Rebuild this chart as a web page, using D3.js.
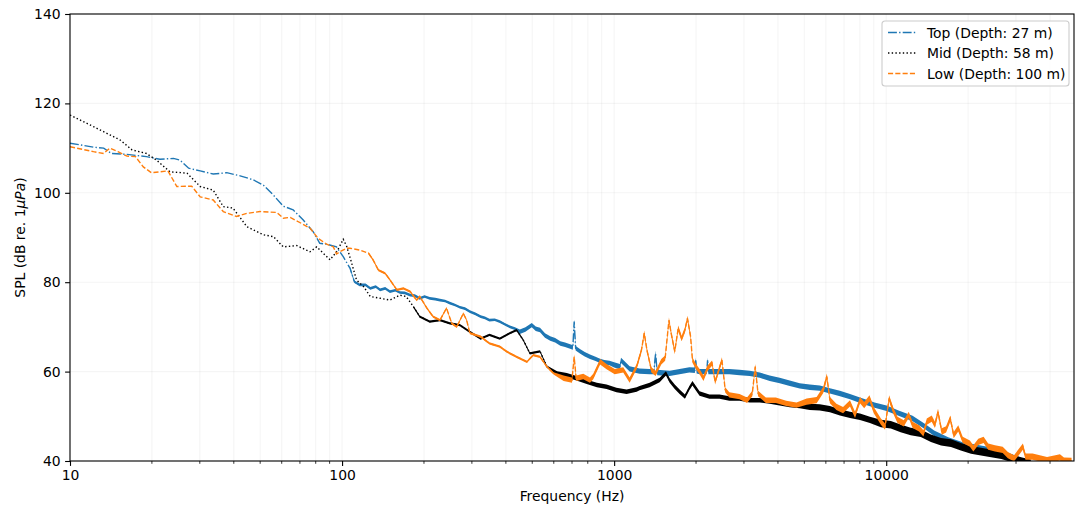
<!DOCTYPE html>
<html>
<head>
<meta charset="utf-8">
<style>
body { margin: 0; background: #fff; }
text { font-family: 'DejaVu Sans', sans-serif; }
</style>
</head>
<body>

<svg id='spl'></svg>

<script src="https://d3js.org/d3.v7.min.js"></script>
<script>
IMG_SIZE = [1075, 508]
PLOT = {left: 70, right: 1074, top: 14, bottom: 461}
FREQ_DOMAIN = [10, 49000]
SPL_DOMAIN = [40, 140]

// x ticks and y ticks
var freqTicks = [10, 100, 1000, 10000]
var splTicks = [40, 60, 80, 100, 120, 140]

// Top hydrophone (27 m)
var topFreq = [10, 12.2, 13.3, 14.2, 16.2, 19.1, 21.4, 24.0, 25.4, 27.3, 30.1, 33.6, 37.7, 42.2, 47.2, 51.4, 55.9, 60.8, 66.1, 72.0,
	78.3, 82.8, 87.8, 95.4, 101, 107, 111, 116, 122, 127, 133, 138, 144, 150, 157, 163, 170, 178, 185, 193, 201, 210, 220, 229, 239, 249,
	260, 271, 283, 295, 309, 323, 335, 348, 364, 380, 396, 414, 432, 450, 472, 498, 515, 534, 557, 582, 607, 634, 660, 689, 705, 713,
	722, 751, 780, 815, 850, 888, 920, 961, 1000, 1050, 1060, 1140, 1240, 1350, 1400, 1420, 1440, 1600, 1740, 1890, 1980, 1995, 2010,
	2060, 2190, 2205, 2220, 2440, 2650, 2890, 3150, 3430, 3730, 4060, 4420, 4810, 5240, 5700, 6210, 6760, 7360, 8010, 9060, 10030,
	11100, 12500, 13900, 15000, 16900, 19100, 20800, 24100, 27900, 30500, 33000]
var topDb = [111.1, 110.2, 110.0, 108.8, 108.6, 108.1, 107.5, 107.7, 107.3, 105.5, 104.9, 104.2, 104.5, 103.8, 102.9, 101.7, 99.5, 97.0, 96.2, 93.9,
	91.3, 88.7, 88.5, 87.9, 85.7, 83.1, 80.1, 79.4, 79.4, 78.6, 79.0, 78.3, 78.6, 77.9, 78.2, 77.7, 77.6, 77.1, 77.0, 76.4, 76.8, 76.4, 76.2, 76.0, 75.8, 75.3,
	74.9, 74.4, 74.1, 73.4, 72.9, 72.3, 72.0, 71.5, 71.6, 71.2, 70.6, 70.0, 69.6, 68.9, 69.4, 70.4, 69.6, 69.3, 68.1, 67.4, 67.0, 66.3, 66.0, 65.6, 65.4, 71.2,
	65.2, 64.5, 63.9, 63.3, 62.9, 62.4, 62.1, 61.9, 61.5, 61.1, 62.5, 60.6, 60.1, 60.0, 60.0, 64.1, 59.8, 59.6, 60.0, 60.4, 60.3, 62.5, 60.2,
	60.0, 60.0, 62.5, 60.0, 60.0, 60.0, 59.8, 59.6, 59.2, 58.5, 58.0, 57.4, 56.8, 56.5, 56.3, 55.7, 55.1, 54.4, 53.6, 52.5, 51.8,
	50.7, 49.5, 47.7, 46.2, 44.7, 43.6, 43.2, 42.5, 41.3, 40.4, 39.5]

// Mid hydrophone (58 m)
var midFreq = [10, 12.2, 15.3, 16.9, 19.1, 20.8, 23.3, 26.9, 30.1, 33.6, 36.6, 39.7, 44.7, 51.4, 55.9, 60.8, 68.1, 76.2, 80.7, 90.3,
	96, 101, 104, 107, 113, 120, 127, 138, 150, 163, 172, 183, 193, 210, 229, 249, 271, 295, 323, 348, 380, 414, 438, 463, 490, 534,
	566, 617, 670, 727, 793, 864, 938, 1020, 1111, 1210, 1240, 1350, 1470, 1550, 1600, 1670, 1740, 1820, 1890, 1940, 2060, 2240, 2440,
	2650, 2890, 3150, 3430, 3730, 4060, 4420, 4810, 5240, 5700, 6210, 6760, 7360, 8010, 8710, 9560, 10400, 11300, 12300, 13400, 14600,
	15900, 17300, 18800, 20500, 22300, 24300, 26500, 28800, 31300, 34000]
var midDb = [117.4, 114.8, 111.8, 109.6, 108.8, 107.3, 104.7, 104.4, 101.4, 100.6, 96.9, 96.6, 92.4, 90.6, 90.2, 87.9, 88.2, 86.8, 87.9, 85.0,
	87.0, 89.6, 88.0, 85.5, 80.5, 79.0, 76.8, 76.4, 76.0, 77.1, 76.8, 74.5, 72.3, 71.2, 71.5, 70.8, 70.4, 68.9, 67.4, 68.2, 67.4, 68.6, 69.3, 67.1, 64.1, 64.5,
	61.1, 59.6, 59.2, 58.5, 57.7, 57.0, 56.6, 55.9, 55.5, 56.0, 56.3, 57.0, 58.1, 59.6, 58.0, 56.6, 55.5, 54.4, 56.3, 57.4, 55.1, 54.4, 54.4,
	54.0, 54.0, 53.6, 53.6, 53.3, 52.9, 52.5, 52.3, 52.1, 52.0, 51.6, 50.9, 50.3, 49.9, 49.2, 48.4, 48.1, 47.3, 46.6, 46.2, 45.1,
	44.3, 44.0, 43.2, 42.5, 42.1, 41.7, 41.3, 40.6, 40.0, 39.5]

// Low hydrophone (100 m)
var lowFreq = [10, 12.2, 13.3, 14.0, 15.0, 16.2, 17.4, 18.6, 19.9, 21.4, 22.9, 24.7, 28.0, 30.1, 33.6, 36.6, 40.9, 44.7, 49.9, 57.6,
	60.8, 64.5, 70.2, 76.2, 81.7, 87.8, 92.9, 95.4, 98, 104, 107, 116, 125, 130, 136, 144, 150, 159, 168, 178, 188, 193, 205, 216, 229,
	242, 253, 264, 279, 287, 295, 323, 348, 380, 402, 438, 478, 504, 534, 566, 599, 652, 700, 713, 725, 770, 815, 838, 888, 938, 1005,
	1080, 1140, 1210, 1260, 1290, 1320, 1370, 1420, 1490, 1540, 1590, 1620, 1670, 1720, 1770, 1820, 1860, 1910, 1940, 2000, 2060, 2130,
	2200, 2290, 2350, 2490, 2560, 2650, 2890, 3080, 3220, 3300, 3380, 3610, 3930, 4290, 4680, 5100, 5550, 5870, 6050, 6210, 6560, 6940,
	7360, 7680, 8010, 8300, 8680, 9000, 9560, 9900, 10250, 10600, 11000, 11600, 12100, 12500, 13200, 13700, 14100, 14700, 15100, 15500,
	16000, 16600, 17200, 17700, 18400, 19100, 20300, 20900, 21800, 22800, 23700, 25100, 26800, 28000, 29500, 31800, 32500, 34500, 36700,
	39000, 43500, 45000, 48000]
var lowDb = [110.3, 109.2, 108.8, 110.0, 109.2, 108.2, 108.1, 105.8, 104.5, 104.7, 104.9, 101.4, 101.5, 99.1, 98.4, 95.8, 94.7, 95.4, 95.8, 95.6,
	94.3, 94.5, 93.3, 92.1, 89.8, 88.5, 87.9, 86.3, 86.8, 87.6, 87.6, 87.2, 86.5, 85.0, 82.7, 82.0, 80.5, 78.3, 78.6, 77.9, 76.0, 76.8, 74.2, 72.3, 71.5,
	74.2, 70.8, 70.0, 73.0, 71.5, 68.6, 67.8, 66.3, 65.6, 64.5, 63.3, 62.2, 63.7, 63.3, 61.1, 59.6, 58.5, 58.1, 63.3, 58.5, 58.9, 58.1, 58.9, 62.2, 61.1, 60.0,
	60.4, 58.1, 61.1, 64.8, 68.6, 64.8, 60.4, 59.6, 62.2, 63.0, 71.5, 68.6, 64.5, 69.7, 67.4, 69.3, 71.9, 67.8, 62.6, 61.1, 60.0, 58.5,
	60.7, 61.9, 57.7, 62.6, 55.9, 54.8, 54.4, 53.6, 55.1, 61.1, 55.1, 53.6, 53.6, 52.9, 52.5, 53.3, 53.6, 55.9, 58.9, 53.6, 52.1, 51.4,
	52.9, 50.3, 53.6, 52.5, 54.0, 51.4, 48.8, 47.7, 54.0, 51.4, 49.2, 48.4, 50.3, 48.1, 47.3, 46.2, 48.8, 49.5, 48.1, 51.0,
	46.6, 47.1, 49.5, 45.8, 47.3, 44.7, 43.9, 42.8, 44.3, 44.7, 43.2, 42.8, 42.5, 41.3, 40.6, 43.2, 41.0, 41.0, 40.6,
	40.2, 40.8, 40.1, 40.0]

// noise band half-width (dB) per frequency range: [from Hz, half-width]
var topSpread = [[10, 0], [105, 0.3], [450, 0.5], [1000, 0.6]]
var midSpread = [[10, 0], [180, 0.25], [600, 0.5], [5000, 0.7], [9000, 0.85]]
var lowSpread = [[10, 0], [120, 0.25], [600, 0.6], [5000, 0.7]]

var seriesNames = ['Top (Depth: 27 m)', 'Mid (Depth: 58 m)', 'Low (Depth: 100 m)']
var seriesColors = ['#1f77b4', '#000000', '#ff7f0e']
var seriesDashes = ['8.9,2.2,1.4,2.2', '1.4,2.3', '5.1,2.2']

var x = d3.scaleLog().domain(FREQ_DOMAIN).range([PLOT.left, PLOT.right])
var y = d3.scaleLinear().domain(SPL_DOMAIN).range([PLOT.bottom, PLOT.top])

function spreadAt(table, f) {
	var s = 0
	table.forEach(function(d){ if (f >= d[0]) s = d[1] })
	return s
}

function buildPoints(freqs, dbs, spread) {
	return freqs.map(function(f, i){ return {f: f, db: dbs[i], s: spreadAt(spread, f)} })
}

var svg = d3.select('#spl')
	.attr('width', IMG_SIZE[0])
	.attr('height', IMG_SIZE[1])

svg.append('defs').append('clipPath').attr('id', 'plotClip')
	.append('rect')
	.attr('x', PLOT.left).attr('y', PLOT.top)
	.attr('width', PLOT.right - PLOT.left).attr('height', PLOT.bottom - PLOT.top)

// grid: every decade step on x, major ticks on y
var minorFreqs = []
for (var dec = 10; dec < FREQ_DOMAIN[1]; dec *= 10) {
	for (var k = 1; k < 10; k++) {
		if (dec * k <= FREQ_DOMAIN[1]) minorFreqs.push(dec * k)
	}
}

var grid = svg.append('g')
grid.selectAll('line.vgrid').data(minorFreqs).enter().append('line')
	.attr('x1', function(d){ return x(d) }).attr('x2', function(d){ return x(d) })
	.attr('y1', PLOT.top).attr('y2', PLOT.bottom)
	.style('stroke', '#b0b0b0').style('stroke-opacity', 0.12).style('stroke-width', 1.1)
grid.selectAll('line.hgrid').data(splTicks).enter().append('line')
	.attr('y1', function(d){ return y(d) }).attr('y2', function(d){ return y(d) })
	.attr('x1', PLOT.left).attr('x2', PLOT.right)
	.style('stroke', '#b0b0b0').style('stroke-opacity', 0.12).style('stroke-width', 1.1)

// spectra
var plotArea = svg.append('g').attr('clip-path', 'url(#plotClip)')
var allSeries = [
	buildPoints(topFreq, topDb, topSpread),
	buildPoints(midFreq, midDb, midSpread),
	buildPoints(lowFreq, lowDb, lowSpread)
]

// noise band only where the spectrum is dense
var band = d3.area()
	.defined(function(d){ return d.s > 0 })
	.x(function(d){ return x(d.f) })
	.y0(function(d){ return y(d.db - d.s) })
	.y1(function(d){ return y(d.db + d.s) })
var line = d3.line()
	.x(function(d){ return x(d.f) })
	.y(function(d){ return y(d.db) })

allSeries.forEach(function(pts, i){
	plotArea.append('path')
		.attr('d', band(pts))
		.style('fill', seriesColors[i])
		.style('stroke', 'none')
	plotArea.append('path')
		.attr('d', line(pts))
		.style('fill', 'none')
		.style('stroke', seriesColors[i])
		.style('stroke-width', 1.4)
		.attr('stroke-dasharray', seriesDashes[i])
})

// frame
svg.append('rect')
	.attr('x', PLOT.left).attr('y', PLOT.top)
	.attr('width', PLOT.right - PLOT.left).attr('height', PLOT.bottom - PLOT.top)
	.style('fill', 'none').style('stroke', 'black').style('stroke-width', 1.1)

// x axis
var xAxis = d3.axisBottom(x).tickValues(freqTicks).tickFormat(d3.format('d')).tickSize(4.9).tickPadding(4.5)
var xg = svg.append('g').attr('transform', 'translate(0,' + PLOT.bottom + ')').call(xAxis)
var xMinor = svg.append('g').attr('transform', 'translate(0,' + PLOT.bottom + ')')
xMinor.selectAll('line').data(minorFreqs.filter(function(d){ return freqTicks.indexOf(d) < 0 })).enter().append('line')
	.attr('x1', function(d){ return x(d) }).attr('x2', function(d){ return x(d) })
	.attr('y1', 0).attr('y2', 2.8)
	.style('stroke', 'black').style('stroke-width', 0.8)

// y axis
var yAxis = d3.axisLeft(y).tickValues(splTicks).tickSize(4.9).tickPadding(4.5)
var yg = svg.append('g').attr('transform', 'translate(' + PLOT.left + ',0)').call(yAxis)

;[xg, yg].forEach(function(g){
	g.select('.domain').remove()
	g.selectAll('line').style('stroke', 'black').style('stroke-width', 1.1)
	g.selectAll('text').style('font-family', "'DejaVu Sans', sans-serif").style('font-size', '13.9px').style('fill', 'black')
})

// axis titles
svg.append('text')
	.attr('x', (PLOT.left + PLOT.right) / 2)
	.attr('y', 501)
	.attr('text-anchor', 'middle')
	.style('font-size', '13.9px')
	.text('Frequency (Hz)')

var yTitle = svg.append('text')
	.attr('transform', 'translate(25,' + ((PLOT.top + PLOT.bottom) / 2) + ') rotate(-90)')
	.attr('text-anchor', 'middle')
	.style('font-size', '13.9px')
yTitle.append('tspan').text('SPL (dB re. 1')
yTitle.append('tspan').style('font-style', 'italic').text('\u03BCPa')
yTitle.append('tspan').text(')')

// legend
var legend = svg.append('g').attr('transform', 'translate(882,21)')
legend.append('rect')
	.attr('width', 187).attr('height', 65).attr('rx', 3)
	.style('fill', 'white').style('fill-opacity', 0.8)
	.style('stroke', '#cccccc').style('stroke-width', 1.1)
seriesNames.forEach(function(name, i){
	var rowY = 11.5 + i * 20.5
	legend.append('line')
		.attr('x1', 6).attr('x2', 34).attr('y1', rowY).attr('y2', rowY)
		.style('stroke', seriesColors[i]).style('stroke-width', 1.4)
		.attr('stroke-dasharray', seriesDashes[i])
	legend.append('text')
		.attr('x', 45).attr('y', rowY + 5)
		.style('font-size', '13.9px')
		.text(name)
})
</script>

</body>
</html>
